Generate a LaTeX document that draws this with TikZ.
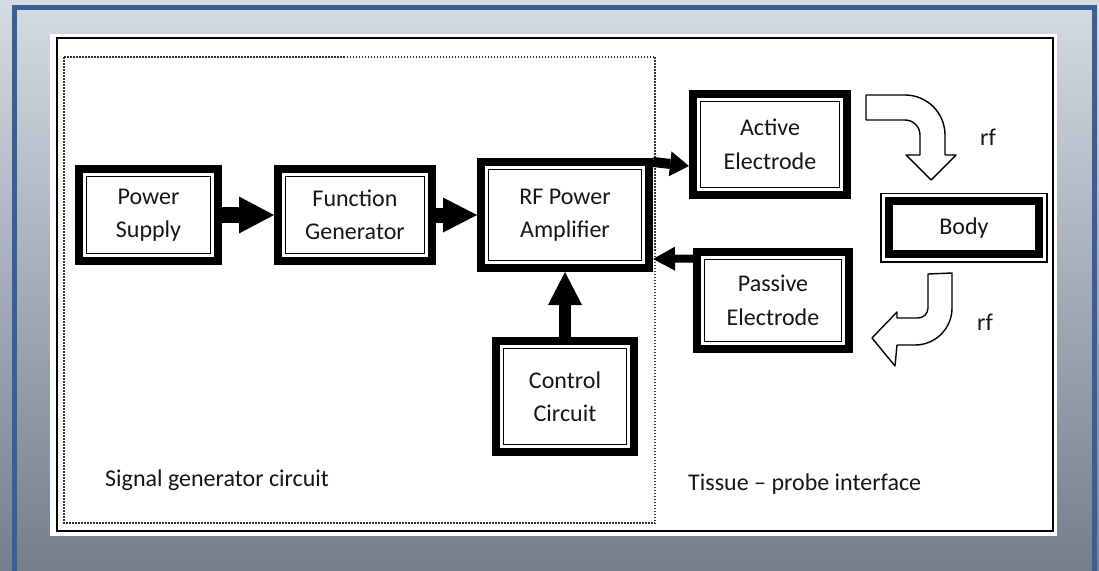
\documentclass[tikz,border=0pt]{standalone}
\usepackage{fontspec}
\setmainfont{Carlito}
\usetikzlibrary{positioning,arrows.meta}

\definecolor{frameblue}{RGB}{58,96,145}
\definecolor{skytop}{RGB}{212,219,228}
\definecolor{skymid}{RGB}{168,176,188}
\definecolor{skybot}{RGB}{118,126,140}
\definecolor{ink}{RGB}{22,22,22}

\begin{document}
\begin{tikzpicture}[x=1pt,y=-1pt,font=\fontsize{24}{33.5}\selectfont]
\tikzstyle{block}=[rectangle,draw=black,line width=8pt,align=center,text=ink,
  path picture={\draw[line width=1.6pt] ([shift={(7.5pt,7.5pt)}]path picture bounding box.south west) rectangle ([shift={(-7.5pt,-7.5pt)}]path picture bounding box.north east);}]
\tikzstyle{bodybox}=[rectangle,draw=black,line width=1.5pt,align=center,text=ink,
  path picture={\draw[line width=8pt] ([shift={(7.75pt,7.75pt)}]path picture bounding box.south west) rectangle ([shift={(-7.75pt,-7.75pt)}]path picture bounding box.north east);}]
\tikzstyle{flow}=[draw=black,line cap=butt]
\tikzstyle{bendarrow}=[draw=black,line width=1.4pt,fill=white,line join=round]
\tikzstyle{caption}=[anchor=west,inner sep=0pt,text=ink]

% sky background and frame
\useasboundingbox (0,0) rectangle (1099,570);
\shade[top color=skytop,middle color=skymid,bottom color=skybot] (0,0) rectangle (1099,570);
\draw[frameblue,line width=5pt] (14.5,7.5) rectangle (1094.5,600);
\fill[white] (50,34) rectangle (1057,536);
\draw[line width=2pt] (57,38) rectangle (1053,530.5);
\draw[black!80,line width=1.5pt,dash pattern=on 1.5pt off 1.5pt] (64,57) rectangle (655,523);

% blocks
\node[block,minimum width=139pt,minimum height=92pt] (ps) at (148.5,215) {Power\\Supply};
\node[block,minimum width=154pt,minimum height=92pt,right=52pt of ps] (fg) {Function\\Generator};
\node[block,minimum width=168pt,minimum height=106pt,right=41pt of fg] (rf) {RF Power\\Amplifier};
\node[block,minimum width=138pt,minimum height=111pt,below=65pt of rf] (cc) {Control\\Circuit};
\node[block,minimum width=154pt,minimum height=101pt] (ae) at (770,144.5) {Active\\Electrode};
\node[block,minimum width=152pt,minimum height=97pt] (pe) at (773,300.5) {Passive\\Electrode};
\node[bodybox,minimum width=166pt,minimum height=68.5pt] (body) at (964,227.75) {Body};

% connectors
\draw[flow,line width=16pt,-{Triangle[length=35pt,width=37pt,line width=0pt]}] (ps) -- (fg);
\draw[flow,line width=15pt,-{Triangle[length=34pt,width=35pt,line width=0pt]}] (fg) -- (rf);
\draw[flow,line width=12pt,-{Triangle[length=33pt,width=34pt,line width=0pt]}] (cc) -- (rf);
\draw[flow,line width=10pt,-{Triangle[length=19pt,width=25pt,line width=0pt]}] ([yshift=53pt]rf.east) -- ([yshift=-21.5pt]ae.west);
\draw[flow,line width=8pt,-{Triangle[length=22pt,width=24pt,line width=0pt]}] ([yshift=42pt]pe.west) -- ([yshift=-44pt]rf.east);

% rf flow through the body
\draw[bendarrow] (866,95) -- (905,95) arc[start angle=-90,end angle=0,radius=40] -- (945,155) -- (956,155) -- (931,180) -- (906,155) -- (920,155) -- (920,135) arc[start angle=0,end angle=-90,radius=15] -- (866,120) -- cycle;
\draw[bendarrow] (928,274) -- (952,273) -- (952,308) arc[start angle=0,end angle=90,radius=37] -- (897,345) -- (895,366) -- (872,338) -- (897,312) -- (897,318) -- (918,318) arc[start angle=90,end angle=0,radius=10] -- cycle;

% labels
\node[text=ink] (rfup) at (988,137) {rf};
\node[text=ink] (rfdown) at (985,322) {rf};
\node[caption] (sgc) at (105,480) {Signal generator circuit};
\node[caption] (tpi) at (688,484) {Tissue – probe interface};
\end{tikzpicture}
\end{document}
